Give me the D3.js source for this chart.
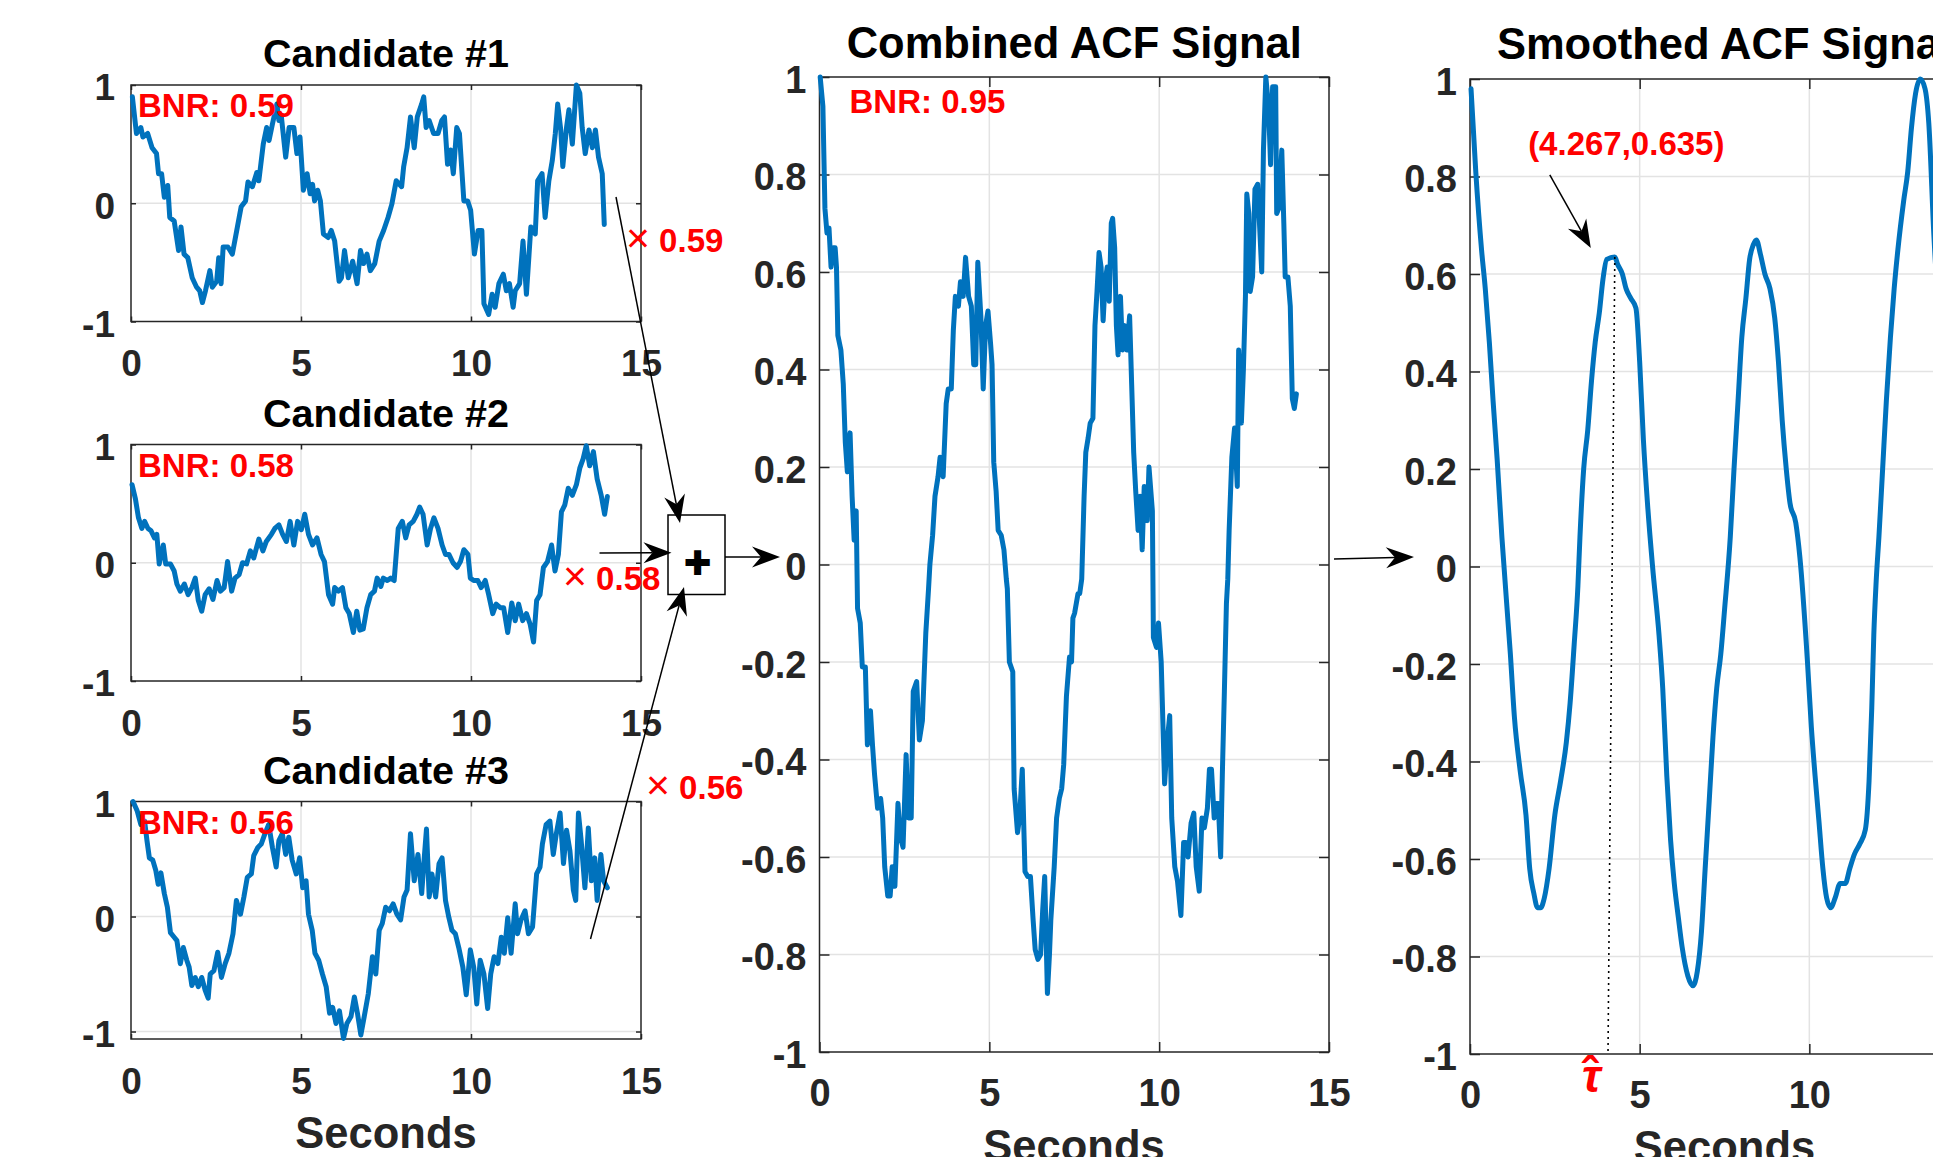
<!DOCTYPE html>
<html>
<head>
<meta charset="utf-8">
<script src="https://cdn.jsdelivr.net/npm/d3@7"></script>
<style>
  body { margin: 0; background: #fff; overflow: hidden; }
  svg { display: block; }
  text { font-family: "Liberation Sans", Arial, Helvetica, sans-serif; font-weight: bold; }
  .grid { stroke: #e3e3e3; stroke-width: 1.5; }
  .box { fill: none; stroke: #262626; stroke-width: 1.5; }
  .signal { fill: none; stroke: #0072bd; stroke-width: 5; stroke-linejoin: round; stroke-linecap: round; }
  .red { fill: #ff0000; }
</style>
</head>
<body>
<svg id="fig" width="1933" height="1157"></svg>
<script>
// Three candidate ACFs are weighted by their BNR, summed, then smoothed.
// Values below: [seconds, value].

const xTicks = [0, 5, 10, 15];
const xTickLabels = ["0", "5", "10", "15"];
const candYTicks = [-1, 0, 1];
const candYTickLabels = ["-1", "0", "1"];
const acfYTicks = [-1, -0.8, -0.6, -0.4, -0.2, 0, 0.2, 0.4, 0.6, 0.8, 1];
const acfYTickLabels = ["-1", "-0.8", "-0.6", "-0.4", "-0.2", "0", "0.2", "0.4", "0.6", "0.8", "1"];

const candidateNames = ["Candidate #1", "Candidate #2", "Candidate #3"];
const candidateBnr = [0.59, 0.58, 0.56];
const combinedBnr = 0.95;
const peakPoint = [4.267, 0.635];

const cand1Series = [[0.04,0.90],[0.16,0.59],[0.29,0.64],[0.35,0.56],[0.49,0.59],[0.62,0.47],[0.75,0.42],[0.81,0.25],[0.90,0.25],[0.98,0.05],[1.08,0.15],[1.14,-0.12],[1.27,-0.15],[1.40,-0.40],[1.47,-0.20],[1.56,-0.43],[1.67,-0.46],[1.80,-0.63],[1.93,-0.71],[2.02,-0.74],[2.10,-0.84],[2.19,-0.74],[2.32,-0.57],[2.39,-0.71],[2.52,-0.66],[2.58,-0.46],[2.65,-0.68],[2.71,-0.37],[2.85,-0.37],[2.98,-0.43],[3.11,-0.23],[3.24,-0.03],[3.37,0.02],[3.44,0.18],[3.57,0.14],[3.70,0.26],[3.76,0.19],[3.89,0.50],[3.99,0.64],[4.06,0.53],[4.16,0.67],[4.29,0.84],[4.35,0.70],[4.42,0.74],[4.55,0.39],[4.65,0.64],[4.79,0.64],[4.88,0.42],[4.97,0.56],[5.07,0.11],[5.18,0.25],[5.27,0.08],[5.34,0.16],[5.40,0.02],[5.49,0.11],[5.57,0.02],[5.66,-0.26],[5.80,-0.29],[5.89,-0.23],[5.99,-0.32],[6.12,-0.66],[6.19,-0.63],[6.28,-0.40],[6.39,-0.63],[6.52,-0.49],[6.65,-0.68],[6.75,-0.40],[6.84,-0.51],[6.94,-0.43],[7.04,-0.57],[7.17,-0.51],[7.30,-0.32],[7.43,-0.23],[7.56,-0.12],[7.67,-0.01],[7.80,0.19],[7.96,0.14],[8.02,0.31],[8.12,0.47],[8.22,0.73],[8.33,0.47],[8.42,0.73],[8.55,0.84],[8.61,0.90],[8.68,0.64],[8.77,0.70],[8.90,0.59],[9.03,0.59],[9.14,0.70],[9.22,0.73],[9.31,0.33],[9.40,0.45],[9.48,0.25],[9.58,0.64],[9.66,0.59],[9.79,0.02],[9.90,0.02],[9.99,-0.06],[10.10,-0.43],[10.21,-0.23],[10.32,-0.23],[10.38,-0.85],[10.52,-0.94],[10.62,-0.77],[10.71,-0.88],[10.82,-0.68],[10.95,-0.60],[11.04,-0.74],[11.13,-0.68],[11.24,-0.88],[11.30,-0.74],[11.43,-0.68],[11.53,-0.32],[11.63,-0.77],[11.76,-0.20],[11.89,-0.26],[11.96,0.19],[12.09,0.25],[12.18,-0.12],[12.29,0.19],[12.39,0.36],[12.48,0.59],[12.55,0.84],[12.64,0.62],[12.70,0.31],[12.81,0.64],[12.88,0.79],[12.98,0.50],[13.10,1.00],[13.20,0.93],[13.27,0.64],[13.36,0.42],[13.47,0.62],[13.57,0.47],[13.66,0.62],[13.75,0.39],[13.86,0.25],[13.92,-0.18]];

const cand2Series = [[0.03,0.66],[0.13,0.54],[0.22,0.38],[0.32,0.29],[0.40,0.35],[0.50,0.29],[0.59,0.27],[0.69,0.21],[0.76,0.24],[0.83,-0.01],[0.95,0.15],[1.02,-0.01],[1.16,-0.01],[1.27,-0.07],[1.35,-0.18],[1.45,-0.24],[1.57,-0.18],[1.68,-0.27],[1.79,-0.21],[1.89,-0.13],[1.98,-0.32],[2.08,-0.41],[2.18,-0.27],[2.30,-0.22],[2.41,-0.31],[2.53,-0.15],[2.63,-0.24],[2.74,-0.21],[2.84,0.01],[2.96,-0.24],[3.06,-0.13],[3.18,-0.10],[3.28,0.00],[3.40,-0.01],[3.51,0.10],[3.61,0.04],[3.76,0.20],[3.88,0.10],[3.98,0.18],[4.13,0.24],[4.23,0.29],[4.35,0.32],[4.46,0.24],[4.57,0.18],[4.68,0.35],[4.79,0.15],[4.90,0.35],[5.01,0.28],[5.11,0.41],[5.22,0.24],[5.34,0.15],[5.47,0.21],[5.59,0.07],[5.69,0.01],[5.81,-0.27],[5.93,-0.35],[5.99,-0.21],[6.10,-0.24],[6.22,-0.21],[6.32,-0.38],[6.42,-0.43],[6.54,-0.59],[6.64,-0.41],[6.73,-0.57],[6.83,-0.56],[6.94,-0.38],[7.05,-0.27],[7.16,-0.24],[7.24,-0.13],[7.35,-0.20],[7.42,-0.13],[7.54,-0.15],[7.64,-0.13],[7.74,-0.15],[7.86,0.29],[7.98,0.35],[8.08,0.21],[8.18,0.32],[8.30,0.35],[8.41,0.41],[8.49,0.47],[8.59,0.41],[8.71,0.15],[8.81,0.29],[8.91,0.38],[9.03,0.29],[9.15,0.15],[9.25,0.07],[9.35,0.07],[9.47,0.00],[9.59,-0.04],[9.69,0.01],[9.79,0.11],[9.91,0.07],[9.98,-0.13],[10.08,-0.15],[10.20,-0.15],[10.30,-0.21],[10.42,-0.15],[10.52,-0.27],[10.64,-0.43],[10.74,-0.35],[10.86,-0.38],[10.96,-0.38],[11.08,-0.59],[11.20,-0.34],[11.30,-0.49],[11.40,-0.35],[11.52,-0.49],[11.63,-0.43],[11.74,-0.52],[11.84,-0.67],[11.93,-0.32],[12.03,-0.27],[12.13,-0.04],[12.25,0.01],[12.37,0.15],[12.47,-0.07],[12.57,0.07],[12.66,0.43],[12.76,0.49],[12.86,0.63],[12.98,0.57],[13.10,0.66],[13.20,0.80],[13.30,0.88],[13.39,0.99],[13.49,0.82],[13.60,0.94],[13.71,0.71],[13.83,0.57],[13.93,0.41],[14.01,0.56]];

const cand3Series = [[0.06,1.00],[0.18,0.92],[0.29,0.80],[0.40,0.83],[0.47,0.66],[0.54,0.51],[0.64,0.49],[0.73,0.40],[0.80,0.28],[0.88,0.38],[0.98,0.20],[1.07,0.08],[1.16,-0.14],[1.27,-0.18],[1.35,-0.21],[1.45,-0.41],[1.54,-0.27],[1.64,-0.38],[1.71,-0.44],[1.79,-0.60],[1.89,-0.53],[1.98,-0.61],[2.08,-0.53],[2.18,-0.64],[2.27,-0.71],[2.33,-0.50],[2.44,-0.47],[2.55,-0.31],[2.66,-0.53],[2.77,-0.41],[2.88,-0.32],[3.00,-0.15],[3.10,0.14],[3.22,0.02],[3.32,0.17],[3.42,0.34],[3.54,0.37],[3.61,0.53],[3.73,0.60],[3.83,0.63],[3.94,0.72],[4.05,0.80],[4.16,0.60],[4.27,0.43],[4.35,0.66],[4.45,0.72],[4.55,0.54],[4.64,0.69],[4.74,0.49],[4.86,0.37],[4.96,0.51],[5.05,0.25],[5.15,0.31],[5.22,0.02],[5.33,-0.12],[5.41,-0.32],[5.52,-0.38],[5.63,-0.50],[5.74,-0.61],[5.84,-0.84],[5.93,-0.79],[6.03,-0.93],[6.13,-0.82],[6.25,-1.06],[6.35,-0.93],[6.47,-0.87],[6.57,-0.70],[6.66,-0.84],[6.76,-1.03],[6.86,-0.87],[6.98,-0.67],[7.10,-0.35],[7.20,-0.50],[7.30,-0.12],[7.39,-0.06],[7.49,0.08],[7.60,0.05],[7.71,0.11],[7.82,0.02],[7.93,-0.03],[8.03,0.17],[8.12,0.23],[8.22,0.72],[8.33,0.31],[8.44,0.54],[8.55,0.20],[8.62,0.49],[8.69,0.76],[8.77,0.17],[8.85,0.37],[8.96,0.17],[9.06,0.46],[9.15,0.51],[9.25,0.14],[9.35,-0.01],[9.44,-0.12],[9.54,-0.15],[9.64,-0.27],[9.76,-0.44],[9.86,-0.68],[9.98,-0.29],[10.08,-0.44],[10.17,-0.76],[10.27,-0.38],[10.38,-0.50],[10.49,-0.80],[10.58,-0.50],[10.68,-0.35],[10.79,-0.41],[10.89,-0.18],[10.98,-0.32],[11.08,-0.01],[11.18,-0.32],[11.30,0.11],[11.37,-0.15],[11.47,-0.03],[11.59,0.05],[11.69,-0.15],[11.81,-0.09],[11.93,0.37],[12.03,0.43],[12.10,0.63],[12.21,0.80],[12.32,0.83],[12.42,0.54],[12.51,0.72],[12.62,0.90],[12.72,0.46],[12.81,0.75],[12.91,0.57],[13.01,0.23],[13.08,0.14],[13.16,0.90],[13.24,0.66],[13.35,0.25],[13.45,0.77],[13.54,0.31],[13.64,0.51],[13.71,0.14],[13.82,0.54],[13.90,0.31],[14.01,0.25]];

const combinedSeries = [[0.02,1.00],[0.10,0.94],[0.16,0.73],[0.22,0.68],[0.28,0.69],[0.34,0.61],[0.40,0.65],[0.46,0.65],[0.50,0.61],[0.54,0.47],[0.63,0.44],[0.70,0.37],[0.76,0.25],[0.82,0.19],[0.90,0.27],[0.96,0.14],[1.02,0.05],[1.08,0.11],[1.12,-0.09],[1.20,-0.12],[1.26,-0.21],[1.35,-0.21],[1.41,-0.37],[1.50,-0.30],[1.56,-0.37],[1.62,-0.43],[1.71,-0.50],[1.80,-0.48],[1.86,-0.52],[1.92,-0.62],[2.01,-0.68],[2.08,-0.68],[2.14,-0.62],[2.22,-0.66],[2.31,-0.49],[2.38,-0.56],[2.46,-0.58],[2.55,-0.39],[2.62,-0.52],[2.70,-0.52],[2.76,-0.26],[2.86,-0.24],[2.94,-0.36],[3.03,-0.32],[3.13,-0.14],[3.21,-0.05],[3.25,0.00],[3.33,0.06],[3.40,0.14],[3.49,0.18],[3.55,0.22],[3.64,0.18],[3.73,0.33],[3.79,0.36],[3.88,0.36],[3.94,0.48],[4.00,0.55],[4.09,0.53],[4.15,0.58],[4.23,0.55],[4.30,0.63],[4.39,0.55],[4.47,0.53],[4.54,0.41],[4.60,0.41],[4.66,0.62],[4.75,0.51],[4.82,0.36],[4.89,0.49],[4.96,0.52],[5.04,0.45],[5.08,0.41],[5.13,0.21],[5.20,0.15],[5.26,0.07],[5.35,0.06],[5.43,0.03],[5.50,-0.03],[5.53,-0.05],[5.59,-0.20],[5.69,-0.22],[5.73,-0.46],[5.83,-0.55],[5.89,-0.52],[5.97,-0.42],[6.05,-0.63],[6.13,-0.64],[6.21,-0.64],[6.29,-0.73],[6.35,-0.79],[6.43,-0.81],[6.51,-0.80],[6.57,-0.71],[6.63,-0.64],[6.71,-0.88],[6.77,-0.80],[6.81,-0.73],[6.91,-0.62],[6.98,-0.52],[7.06,-0.48],[7.13,-0.46],[7.19,-0.41],[7.27,-0.27],[7.36,-0.19],[7.42,-0.20],[7.46,-0.11],[7.51,-0.10],[7.61,-0.06],[7.66,-0.06],[7.72,-0.03],[7.79,0.14],[7.84,0.23],[7.91,0.26],[7.97,0.29],[8.05,0.30],[8.11,0.49],[8.17,0.56],[8.23,0.64],[8.29,0.61],[8.35,0.50],[8.41,0.58],[8.47,0.61],[8.53,0.54],[8.59,0.70],[8.63,0.71],[8.69,0.65],[8.74,0.49],[8.79,0.43],[8.86,0.55],[8.92,0.44],[8.99,0.49],[9.05,0.44],[9.13,0.51],[9.19,0.37],[9.25,0.23],[9.31,0.15],[9.38,0.07],[9.44,0.14],[9.50,0.03],[9.56,0.16],[9.65,0.09],[9.70,0.20],[9.80,0.11],[9.83,-0.15],[9.92,-0.17],[9.98,-0.12],[10.06,-0.20],[10.16,-0.45],[10.24,-0.36],[10.31,-0.31],[10.37,-0.52],[10.46,-0.62],[10.54,-0.65],[10.64,-0.72],[10.72,-0.57],[10.79,-0.57],[10.85,-0.60],[10.94,-0.53],[11.02,-0.51],[11.09,-0.62],[11.18,-0.67],[11.26,-0.52],[11.33,-0.54],[11.42,-0.50],[11.48,-0.42],[11.54,-0.42],[11.62,-0.52],[11.68,-0.49],[11.74,-0.49],[11.81,-0.60],[11.86,-0.43],[11.92,-0.26],[11.98,-0.08],[12.02,-0.03],[12.06,0.07],[12.14,0.22],[12.22,0.28],[12.30,0.16],[12.34,0.44],[12.42,0.29],[12.48,0.40],[12.54,0.55],[12.58,0.76],[12.64,0.72],[12.68,0.56],[12.75,0.59],[12.82,0.77],[12.90,0.78],[12.96,0.69],[13.02,0.60],[13.07,0.85],[13.14,1.00],[13.22,0.94],[13.28,0.82],[13.34,0.98],[13.43,0.98],[13.46,0.72],[13.52,0.73],[13.61,0.85],[13.67,0.70],[13.71,0.59],[13.79,0.59],[13.86,0.53],[13.92,0.34],[13.98,0.32],[14.04,0.35]];

const smoothedSeries = [[0.03,0.98],[0.17,0.81],[0.34,0.65],[0.45,0.57],[0.57,0.46],[0.68,0.34],[0.80,0.22],[0.94,0.06],[1.19,-0.18],[1.31,-0.31],[1.48,-0.42],[1.65,-0.51],[1.76,-0.62],[1.88,-0.67],[1.99,-0.70],[2.08,-0.70],[2.19,-0.68],[2.33,-0.62],[2.50,-0.51],[2.67,-0.44],[2.84,-0.36],[2.95,-0.28],[3.07,-0.16],[3.18,-0.04],[3.24,0.06],[3.35,0.20],[3.47,0.28],[3.58,0.38],[3.69,0.46],[3.81,0.52],[3.92,0.59],[4.03,0.63],[4.267,0.635],[4.35,0.62],[4.49,0.60],[4.60,0.57],[4.74,0.55],[4.89,0.53],[5.00,0.42],[5.11,0.26],[5.23,0.13],[5.38,0.00],[5.57,-0.14],[5.68,-0.25],[5.80,-0.43],[5.91,-0.56],[6.02,-0.65],[6.14,-0.72],[6.25,-0.78],[6.42,-0.84],[6.57,-0.86],[6.70,-0.83],[6.82,-0.75],[6.93,-0.62],[7.05,-0.48],[7.16,-0.35],[7.27,-0.25],[7.39,-0.18],[7.50,-0.09],[7.67,0.06],[7.78,0.20],[7.90,0.34],[8.01,0.47],[8.13,0.55],[8.24,0.63],[8.35,0.66],[8.44,0.67],[8.56,0.64],[8.69,0.60],[8.84,0.57],[8.98,0.51],[9.09,0.42],[9.20,0.30],[9.32,0.20],[9.43,0.13],[9.60,0.09],[9.72,0.02],[9.94,-0.19],[10.06,-0.33],[10.17,-0.43],[10.28,-0.52],[10.40,-0.62],[10.51,-0.68],[10.63,-0.70],[10.76,-0.68],[10.91,-0.65],[11.06,-0.65],[11.19,-0.62],[11.33,-0.59],[11.48,-0.57],[11.65,-0.54],[11.76,-0.44],[11.84,-0.29],[11.90,-0.14],[11.97,-0.03],[12.05,0.06],[12.16,0.20],[12.27,0.34],[12.39,0.47],[12.50,0.57],[12.61,0.65],[12.78,0.75],[12.90,0.81],[13.01,0.90],[13.13,0.97],[13.27,1.00],[13.41,0.98],[13.52,0.91],[13.67,0.68],[14.00,0.36]];

const svg = d3.select("#fig");
const ink = "#262626";

const cand = { left: 131, right: 641, tick: 5, fs: 37, titleFs: 39.5, titleGap: 18, xPad: 28.7, yPad: 16,
  yTicks: candYTicks, yLabels: candYTickLabels };
const acf = { tick: 10, fs: 38, titleFs: 43.5, xPad: 27, yPad: 13,
  yTicks: acfYTicks, yLabels: acfYTickLabels };

const panels = [
  { ...cand, name: candidateNames[0], series: cand1Series, top: 85, bottom: 321.5, yDomain: [-1, 1] },
  { ...cand, name: candidateNames[1], series: cand2Series, top: 444.5, bottom: 681, yDomain: [-1, 1] },
  { ...cand, name: candidateNames[2], series: cand3Series, top: 801.5, bottom: 1039, yDomain: [-1.065, 1] },
  { ...acf, name: "Combined ACF Signal", series: combinedSeries, left: 819.5, right: 1329, top: 77, bottom: 1052,
    yDomain: [-1, 1], titleGap: 19.5 },
  { ...acf, name: "Smoothed ACF Signal", series: smoothedSeries, left: 1470, right: 1979, top: 79, bottom: 1054,
    yDomain: [-1, 1], titleGap: 20, curve: d3.curveMonotoneX }
];

function styleAxis(g, fs) {
  g.select(".domain").remove();
  g.attr("font-size", fs)
    .attr("font-family", "'Liberation Sans', Arial, sans-serif")
    .attr("color", ink);
  g.selectAll(".tick line").attr("stroke-width", 1.5);
}

function drawPanel(p) {
  const x = d3.scaleLinear().domain([0, 15]).range([p.left, p.right]);
  const y = d3.scaleLinear().domain(p.yDomain).range([p.bottom, p.top]);
  const g = svg.append("g");

  g.append("g").selectAll("line")
    .data(xTicks.filter(d => d > 0 && d < 15))
    .join("line")
    .attr("class", "grid")
    .attr("x1", d => x(d)).attr("x2", d => x(d))
    .attr("y1", p.top).attr("y2", p.bottom);

  g.append("g").selectAll("line")
    .data(p.yTicks.filter(d => y(d) > p.top + 1 && y(d) < p.bottom - 1))
    .join("line")
    .attr("class", "grid")
    .attr("x1", p.left).attr("x2", p.right)
    .attr("y1", d => y(d)).attr("y2", d => y(d));

  g.append("g")
    .attr("transform", `translate(0,${p.bottom})`)
    .call(d3.axisBottom(x).tickValues(xTicks).tickFormat((d, i) => xTickLabels[i])
      .tickSizeInner(-p.tick).tickSizeOuter(0).tickPadding(p.xPad))
    .call(styleAxis, p.fs);

  g.append("g")
    .attr("transform", `translate(0,${p.top})`)
    .call(d3.axisTop(x).tickValues(xTicks).tickFormat("").tickSizeInner(-p.tick).tickSizeOuter(0))
    .call(styleAxis, p.fs);

  g.append("g")
    .attr("transform", `translate(${p.left},0)`)
    .call(d3.axisLeft(y).tickValues(p.yTicks).tickFormat((d, i) => p.yLabels[i])
      .tickSizeInner(-p.tick).tickSizeOuter(0).tickPadding(p.yPad))
    .call(styleAxis, p.fs)
    .selectAll("text").attr("dy", "0.4em");

  g.append("g")
    .attr("transform", `translate(${p.right},0)`)
    .call(d3.axisRight(y).tickValues(p.yTicks).tickFormat("").tickSizeInner(-p.tick).tickSizeOuter(0))
    .call(styleAxis, p.fs);

  g.append("rect")
    .attr("class", "box")
    .attr("x", p.left).attr("y", p.top)
    .attr("width", p.right - p.left).attr("height", p.bottom - p.top);

  const line = d3.line().x(d => x(d[0])).y(d => y(d[1])).curve(p.curve || d3.curveLinear);
  g.append("path")
    .datum(p.series)
    .attr("class", "signal")
    .attr("d", line);

  g.append("text")
    .attr("x", (p.left + p.right) / 2)
    .attr("y", p.top - p.titleGap)
    .attr("text-anchor", "middle")
    .attr("font-size", p.titleFs)
    .attr("fill", "#000")
    .text(p.name);

  return { x, y, p };
}

const drawn = panels.map(drawPanel);

// BNR labels
drawn.slice(0, 3).forEach((d, i) => {
  svg.append("text")
    .attr("class", "red")
    .attr("x", d.p.left + 7)
    .attr("y", d.p.top + 32)
    .attr("font-size", 33)
    .text(`BNR: ${candidateBnr[i].toFixed(2)}`);
});
svg.append("text")
  .attr("class", "red")
  .attr("x", drawn[3].p.left + 30)
  .attr("y", drawn[3].p.top + 36)
  .attr("font-size", 33)
  .text(`BNR: ${combinedBnr.toFixed(2)}`);

// x-axis titles
[[386, 1148], [1074, 1161], [1724.5, 1162]].forEach(([cx, cy]) => {
  svg.append("text")
    .attr("x", cx).attr("y", cy)
    .attr("text-anchor", "middle")
    .attr("font-size", 43.5)
    .attr("fill", ink)
    .text("Seconds");
});

// weight labels next to the candidates
[[626, 252], [563, 590], [646, 799]].forEach(([lx, ly], i) => {
  const t = svg.append("text").attr("class", "red").attr("x", lx).attr("y", ly).attr("font-size", 33);
  t.append("tspan").attr("font-weight", "normal").attr("font-size", 41).text("\u00d7");
  t.append("tspan").text(` ${candidateBnr[i].toFixed(2)}`);
});

// summing junction
const sumBox = { left: 668, top: 515, right: 725, bottom: 594.5 };
svg.append("rect")
  .attr("x", sumBox.left).attr("y", sumBox.top)
  .attr("width", sumBox.right - sumBox.left).attr("height", sumBox.bottom - sumBox.top)
  .attr("fill", "none").attr("stroke", "#000").attr("stroke-width", 1.5);
svg.append("text")
  .attr("x", (sumBox.left + sumBox.right) / 2 + 1)
  .attr("y", 578)
  .attr("text-anchor", "middle")
  .attr("font-size", 44)
  .attr("fill", "#000")
  .attr("stroke", "#000")
  .attr("stroke-width", 2.2)
  .text("+");

function arrow(x1, y1, x2, y2) {
  const L = 28, W = 21;
  const len = Math.hypot(x2 - x1, y2 - y1);
  const ux = (x2 - x1) / len, uy = (y2 - y1) / len;
  const nx = -uy, ny = ux;
  const bx = x2 - L * ux, by = y2 - L * uy;
  const mx = x2 - 0.68 * L * ux, my = y2 - 0.68 * L * uy;
  svg.append("line")
    .attr("x1", x1).attr("y1", y1).attr("x2", mx).attr("y2", my)
    .attr("stroke", "#000").attr("stroke-width", 1.5);
  svg.append("path")
    .attr("d", `M${x2},${y2}L${bx + W / 2 * nx},${by + W / 2 * ny}L${mx},${my}L${bx - W / 2 * nx},${by - W / 2 * ny}Z`)
    .attr("fill", "#000");
}

arrow(616, 197, sumBox.left + 12, sumBox.top + 8);
arrow(599.5, 553, sumBox.left + 3.5, 552.7);
arrow(590.5, 939, sumBox.left + 16, sumBox.bottom - 7.5);
arrow(sumBox.right, 557, drawn[3].p.left - 39.5, 557);
arrow(drawn[3].p.right + 5, 559, drawn[4].p.left - 56, 557);

// peak annotation on the smoothed signal
const sx = drawn[4].x, sy = drawn[4].y;
const px = sx(peakPoint[0]), py = sy(peakPoint[1]);

svg.append("line")
  .attr("x1", px).attr("y1", py)
  .attr("x2", sx(peakPoint[0] - 0.2)).attr("y2", sy(-1))
  .attr("stroke", "#000").attr("stroke-width", 1.6)
  .attr("stroke-dasharray", "2,4");

arrow(px - 65, py - 82, px - 24, py - 9);

svg.append("text")
  .attr("class", "red")
  .attr("x", px + 11.5)
  .attr("y", py - 102)
  .attr("text-anchor", "middle")
  .attr("font-size", 33)
  .text(`(${peakPoint[0]},${peakPoint[1]})`);

// tau-hat label under the axis, one text element with the hat as a shifted tspan
const tau = svg.append("text")
  .attr("class", "red")
  .attr("x", px - 33).attr("y", 1092)
  .attr("font-family", "'Liberation Serif', 'DejaVu Serif', serif")
  .attr("font-weight", "normal");
tau.append("tspan").attr("font-size", 46).attr("font-style", "italic").text("\u03c4");
tau.append("tspan").attr("font-size", 48).attr("dx", -19).attr("dy", -1).text("\u02c6");
</script>
</body>
</html>
